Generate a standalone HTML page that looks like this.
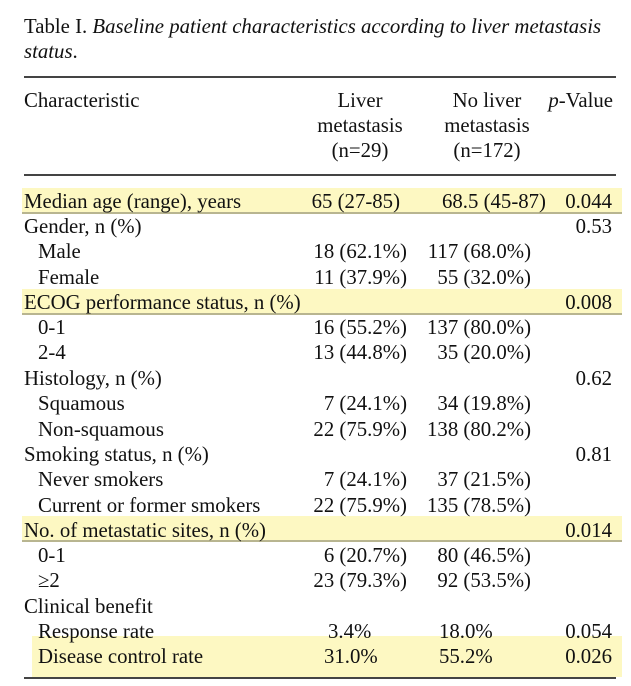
<!DOCTYPE html>
<html><head><meta charset="utf-8"><style>
body{margin:0;background:#fff;width:631px;height:686px;position:relative;overflow:hidden;font-family:"Liberation Serif",serif;font-size:20.8px;color:#111}
.a{position:absolute;white-space:nowrap;line-height:25px}
.r{position:absolute;left:0;width:631px;height:25px}
.r span{position:absolute;white-space:nowrap;line-height:25px;top:0}
.c1{left:24px}.c1i{left:38px}
.l{right:224px}.n{right:100px}.p{right:19px}
.hl{position:absolute;background:#fdf8c2;border-bottom:2px solid #b8b590}
.rule{position:absolute;left:24px;width:592px;height:2px;background:#444}
</style></head><body>
<div class="a" style="left:24px;top:14px">Table I. <i>Baseline patient characteristics according to liver metastasis</i></div>
<div class="a" style="left:24px;top:39px"><i>status</i>.</div>
<div class="rule" style="top:76px"></div>
<div class="a" style="left:24px;top:88px">Characteristic</div>
<div class="a" style="left:290px;width:140px;text-align:center;top:88px">Liver<br>metastasis<br>(n=29)</div>
<div class="a" style="left:417px;width:140px;text-align:center;top:88px">No liver<br>metastasis<br>(n=172)</div>
<div class="a" style="right:18px;top:88px"><i>p</i>-Value</div>
<div class="rule" style="top:174px;height:2px"></div>
<div class="hl" style="left:22px;width:600px;top:188px;height:24px"></div>
<div class="hl" style="left:22px;width:600px;top:289px;height:24px"></div>
<div class="hl" style="left:22px;width:600px;top:516px;height:24px"></div>
<div class="hl" style="left:32px;width:590px;top:636px;height:41px;border-bottom:none"></div>
<div class="rule" style="top:677px"></div>

<div class="r" style="top:189px"><span class="c1">Median age (range), years</span><span class="l" style="right:231px">65 (27-85)</span><span style="left:442px">68.5 (45-87)</span><span class="p">0.044</span></div>
<div class="r" style="top:214px"><span class="c1">Gender, n (%)</span><span class="p">0.53</span></div>
<div class="r" style="top:239px"><span class="c1i">Male</span><span class="l">18 (62.1%)</span><span class="n">117 (68.0%)</span></div>
<div class="r" style="top:265px"><span class="c1i">Female</span><span class="l">11 (37.9%)</span><span class="n">55 (32.0%)</span></div>
<div class="r" style="top:290px"><span class="c1">ECOG performance status, n (%)</span><span class="p">0.008</span></div>
<div class="r" style="top:315px"><span class="c1i">0-1</span><span class="l">16 (55.2%)</span><span class="n">137 (80.0%)</span></div>
<div class="r" style="top:340px"><span class="c1i">2-4</span><span class="l">13 (44.8%)</span><span class="n">35 (20.0%)</span></div>
<div class="r" style="top:366px"><span class="c1">Histology, n (%)</span><span class="p">0.62</span></div>
<div class="r" style="top:391px"><span class="c1i">Squamous</span><span class="l">7 (24.1%)</span><span class="n">34 (19.8%)</span></div>
<div class="r" style="top:417px"><span class="c1i">Non-squamous</span><span class="l">22 (75.9%)</span><span class="n">138 (80.2%)</span></div>
<div class="r" style="top:442px"><span class="c1">Smoking status, n (%)</span><span class="p">0.81</span></div>
<div class="r" style="top:467px"><span class="c1i">Never smokers</span><span class="l">7 (24.1%)</span><span class="n">37 (21.5%)</span></div>
<div class="r" style="top:493px"><span class="c1i">Current or former smokers</span><span class="l">22 (75.9%)</span><span class="n">135 (78.5%)</span></div>
<div class="r" style="top:518px"><span class="c1">No. of metastatic sites, n (%)</span><span class="p">0.014</span></div>
<div class="r" style="top:543px"><span class="c1i">0-1</span><span class="l">6 (20.7%)</span><span class="n">80 (46.5%)</span></div>
<div class="r" style="top:568px"><span class="c1i">≥2</span><span class="l">23 (79.3%)</span><span class="n">92 (53.5%)</span></div>
<div class="r" style="top:594px"><span class="c1">Clinical benefit</span></div>
<div class="r" style="top:619px"><span class="c1i">Response rate</span><span style="left:328px">3.4%</span><span style="left:439px">18.0%</span><span class="p">0.054</span></div>
<div class="r" style="top:644px"><span class="c1i">Disease control rate</span><span style="left:324px">31.0%</span><span style="left:439px">55.2%</span><span class="p">0.026</span></div>
</body></html>
